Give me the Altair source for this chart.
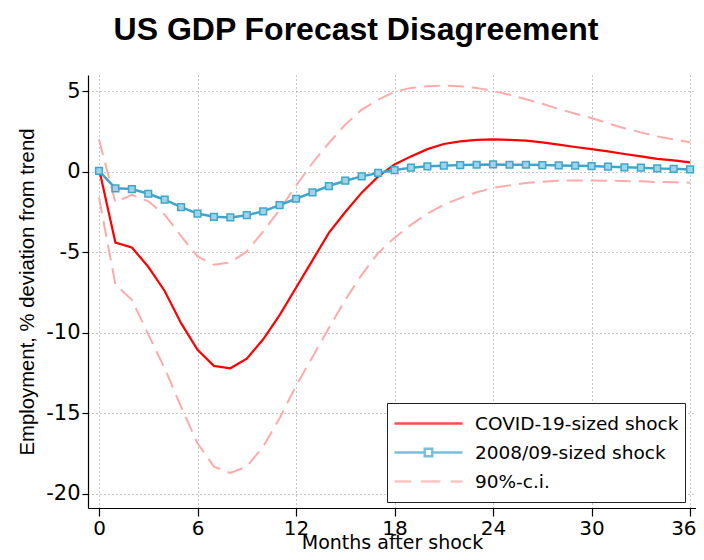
import altair as alt
import pandas as pd

months = list(range(37))
covid = [0.2, -4.4, -4.7, -5.9, -7.4, -9.4, -11.05, -12.05, -12.2, -11.6,
         -10.4, -8.9, -7.2, -5.5, -3.8, -2.5, -1.3, -0.3, 0.45, 0.95,
         1.4, 1.72, 1.88, 1.97, 2.0, 1.98, 1.93, 1.82, 1.68, 1.53,
         1.4, 1.26, 1.1, 0.95, 0.8, 0.7, 0.58]
gfc = [0.05, -1.03, -1.08, -1.37, -1.74, -2.2, -2.6, -2.8, -2.84, -2.7,
       -2.46, -2.07, -1.68, -1.28, -0.89, -0.56, -0.29, -0.08, 0.1, 0.25,
       0.33, 0.37, 0.41, 0.43, 0.45, 0.43, 0.43, 0.41, 0.39, 0.37,
       0.35, 0.31, 0.27, 0.25, 0.2, 0.18, 0.14]
ci_upper = [2.0, -1.9, -1.43, -1.84, -2.67, -4.0, -5.26, -5.78, -5.63, -4.95,
            -3.7, -2.36, -0.87, 0.54, 1.78, 2.92, 3.85, 4.47, 4.95, 5.2,
            5.3, 5.34, 5.3, 5.2, 5.0, 4.78, 4.5, 4.22, 3.9, 3.6,
            3.33, 3.0, 2.7, 2.44, 2.19, 2.0, 1.82]
ci_lower = [-1.6, -7.0, -7.95, -10.1, -12.2, -14.6, -16.85, -18.3, -18.7, -18.3,
            -17.06, -15.3, -13.3, -11.5, -9.7, -7.95, -6.4, -5.05, -4.1, -3.3,
            -2.6, -2.05, -1.64, -1.28, -1.0, -0.85, -0.7, -0.62, -0.56, -0.54,
            -0.54, -0.56, -0.58, -0.6, -0.64, -0.66, -0.68]

series_names = ["COVID-19-sized shock", "2008/09-sized shock", "90%-c.i."]
series_colors = ["#ff0000", "#3ea6cc", "#ffaaaa"]
legend_paths = [
    "M-1,0H1",
    "M-1,0H-0.11M0.11,0H1M-0.11,-0.11H0.11V0.11H-0.11Z",
    "M-1,0H-0.5M-0.22,0H0.35M0.65,0H1",
]
x_ticks = [0, 6, 12, 18, 24, 30, 36]
y_ticks = [-20, -15, -10, -5, 0, 5]

rows = []
for m, c, g, u, l in zip(months, covid, gfc, ci_upper, ci_lower):
    rows.append({"month": m, "value": c, "series": series_names[0], "grp": "covid"})
    rows.append({"month": m, "value": g, "series": series_names[1], "grp": "gfc"})
    rows.append({"month": m, "value": u, "series": series_names[2], "grp": "upper"})
    rows.append({"month": m, "value": l, "series": series_names[2], "grp": "lower"})
df = pd.DataFrame(rows)

FONT = "Liberation Sans"
WFONT = "DejaVu Sans"
hyphen_labels = "datum.value < 0 ? '-' + abs(datum.value) : '' + datum.value"

x_enc = alt.X("month:Q",
              scale=alt.Scale(domain=[-0.67, 36.36], nice=False, zero=False),
              axis=alt.Axis(values=x_ticks, title="Months after shock", grid=True,
                            labelFlush=8, labelFlushOffset=6))
y_enc = alt.Y("value:Q",
              scale=alt.Scale(domain=[-20.87, 6.0], nice=False, zero=False),
              axis=alt.Axis(values=y_ticks, title="Employment, % deviation from trend",
                            grid=True, labelExpr=hyphen_labels))
color_scale = alt.Scale(domain=series_names, range=series_colors)
color_enc = alt.Color("series:N", scale=color_scale)

base = alt.Chart(df)

legend_layer = base.transform_filter("datum.month < -100").mark_point(
    strokeWidth=2.5
).encode(
    x=x_enc, y=y_enc,
    color=alt.Color("series:N", scale=color_scale,
                    legend=alt.Legend(
                        title=None, orient="none", legendX=299, legendY=328,
                        direction="vertical", clipHeight=29, rowPadding=0,
                        padding=6, strokeColor="#222222", fillColor="white",
                        cornerRadius=0, symbolSize=4624, symbolStrokeWidth=2.5,
                        labelFontSize=18.5, labelFont=WFONT, labelColor="black",
                        labelOffset=11, labelExpr="datum.label + '   '",
                        labelLimit=400)),
    shape=alt.Shape("series:N",
                    scale=alt.Scale(domain=series_names, range=legend_paths)),
)

ci_layer = base.transform_filter(alt.datum.series == series_names[2]).mark_line(
    strokeWidth=2, strokeDash=[16, 8]
).encode(x=x_enc, y=y_enc, color=color_enc, detail="grp:N")

covid_layer = base.transform_filter(alt.datum.grp == "covid").mark_line(
    strokeWidth=2.2
).encode(x=x_enc, y=y_enc, color=color_enc)

gfc_layer = base.transform_filter(alt.datum.grp == "gfc").mark_line(
    strokeWidth=2.5
).encode(x=x_enc, y=y_enc, color=color_enc)

gfc_pts = base.transform_filter(alt.datum.grp == "gfc").mark_point(
    shape="square", size=45, filled=True, fill="#9fd4e8", stroke="#3ea6cc",
    strokeWidth=1.5, opacity=1
).encode(x=x_enc, y=y_enc)

chart = alt.layer(legend_layer, ci_layer, covid_layer, gfc_layer, gfc_pts).properties(
    width=608, height=433,
    autosize=alt.AutoSizeParams(type="none"),
    padding={"left": 80, "top": 67, "right": 0, "bottom": 44},
    title=alt.Title("US GDP Forecast Disagreement", fontSize=32, fontWeight="bold",
                    font=FONT, anchor="middle", dx=-36, offset=28, color="black"),
).configure_view(stroke=None).configure_axis(
    labelFont=WFONT, titleFont=FONT, labelFontSize=21, titleFontSize=20.3,
    labelColor="black", titleColor="black", titleFontWeight="normal",
    domainColor="black", domainWidth=1.2, tickColor="black", tickWidth=1.2,
    gridColor="#8a8a8a", gridDash=[1, 3], gridWidth=1,
).configure_axisX(
    tickSize=8, labelPadding=2, titlePadding=-5, titleFont=WFONT, titleFontSize=19,
    labelFontSize=20,
).configure_axisY(
    tickSize=6, labelPadding=2, titlePadding=8,
)

chart.save("out.html", embed_options={"renderer": "svg", "actions": False})
